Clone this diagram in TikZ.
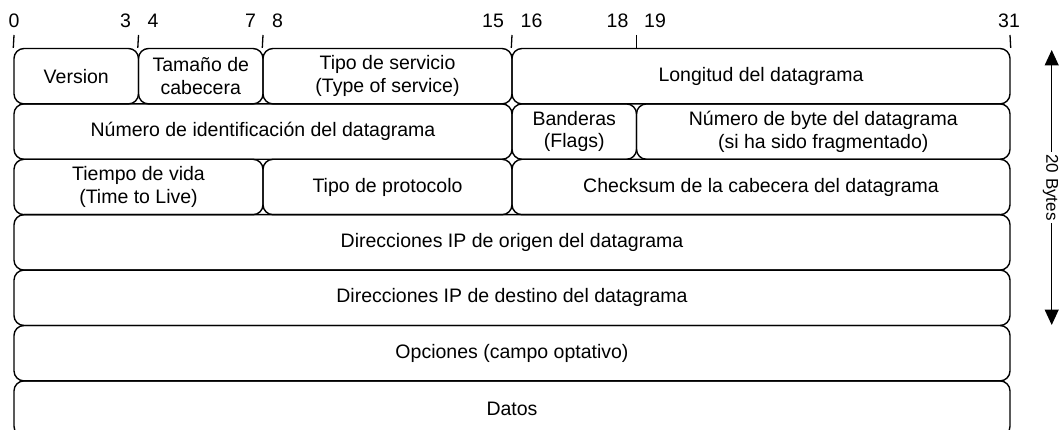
\documentclass[tikz,border=0pt]{standalone}
\usepackage{fontspec}
\setmainfont{Liberation Sans}
\usetikzlibrary{arrows.meta}

\begin{document}
\begin{tikzpicture}[x=1pt,y=-1pt,
  field/.style={draw, line width=1.4pt, rounded corners=10pt, inner sep=0pt,
    align=center, minimum height=55.4pt,
    font=\fontsize{19.5}{22.5}\selectfont},
  bitnum/.style={anchor=base, inner sep=0pt, font=\fontsize{19.5}{22.5}\selectfont},
  tick/.style={draw, line width=1.3pt},
  span/.style={line width=1.3pt, {Triangle[length=15.5pt,width=14pt]}-{Triangle[length=15.5pt,width=14pt]}}]

\useasboundingbox (0,0) rectangle (1059,430);

% Row 1
\node[field, minimum width=124.5pt] (ver) at (76.25,76.2) {Version};
\node[field, minimum width=124.5pt] (hlen) at (200.75,76.2) {Tamaño de\\cabecera};
\node[field, minimum width=249pt] (tos) at (387.5,76.2) {Tipo de servicio\\(Type of service)};
\node[field, minimum width=498pt] (tlen) at (761,76.2) {Longitud del datagrama};

% Row 2
\node[field, minimum width=498pt] (ident) at (263,131.6) {Número de identificación del datagrama};
\node[field, minimum width=124.5pt] (flags) at (574.25,131.6) {Banderas\\(Flags)};
\node[field, minimum width=373.5pt] (frag) at (823.25,131.6) {Número de byte del datagrama\\(si ha sido fragmentado)};

% Row 3
\node[field, minimum width=249pt] (ttl) at (138.5,187.0) {Tiempo de vida\\(Time to Live)};
\node[field, minimum width=249pt] (proto) at (387.5,187.0) {Tipo de protocolo};
\node[field, minimum width=498pt] (csum) at (761,187.0) {Checksum de la cabecera del datagrama};

% Full-width rows
\node[field, minimum width=996pt] (src) at (512,242.4) {Direcciones IP de origen del datagrama};
\node[field, minimum width=996pt] (dst) at (512,297.8) {Direcciones IP de destino del datagrama};
\node[field, minimum width=996pt] (opt) at (512,353.2) {Opciones (campo optativo)};
\node[field, minimum width=996pt] (data) at (512,408.6) {Datos};

% Bit numbers
\node[bitnum] (b0) at (14,27.5) {0};
\node[bitnum] (b3) at (125.5,27.5) {3};
\node[bitnum] (b4) at (153,27.5) {4};
\node[bitnum] (b7) at (250.5,27.5) {7};
\node[bitnum] (b8) at (277.5,27.5) {8};
\node[bitnum] (b15) at (493,27.5) {15};
\node[bitnum] (b16) at (531.5,27.5) {16};
\node[bitnum] (b18) at (617.5,27.5) {18};
\node[bitnum] (b19) at (655,27.5) {19};
\node[bitnum] (b31) at (1009,27.5) {31};

% Bit boundary ticks
\coordinate (t0) at (14,35);
\coordinate (t4) at (138.5,35);
\coordinate (t8) at (263,35);
\coordinate (t16) at (512,35);
\coordinate (t19) at (636.5,35);
\coordinate (t32) at (1010,35);
\draw[tick] (t0) -- (ver.north west);
\draw[tick] (t4) -- (hlen.north west);
\draw[tick] (t8) -- (tos.north west);
\draw[tick] (t16) -- (tlen.north west);
\draw[tick] (t19) -- (t19 |- tlen.north);
\draw[tick] (t32) -- (tlen.north east);

% Header size marker
\coordinate (hdrtop) at (1051.7,50);
\coordinate (hdrbot) at (1051.7,325);
\draw[span] (hdrtop) -- (hdrbot);
\node[rotate=-90, fill=white, inner sep=2pt, font=\fontsize{17}{20}\selectfont] (hdrlbl) at (1050.5,187.5) {20 Bytes};

\end{tikzpicture}
\end{document}
